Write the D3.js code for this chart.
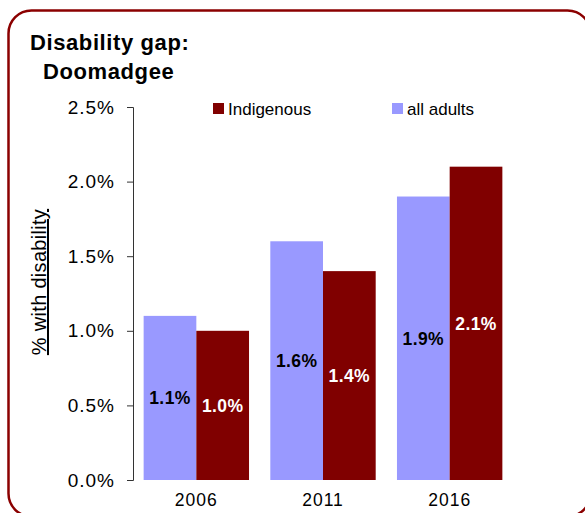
<!DOCTYPE html>
<html><head><meta charset="utf-8">
<script src="https://cdn.jsdelivr.net/npm/d3@7"></script>
<style>html,body{margin:0;padding:0;background:#fff;}svg{display:block;}</style>
</head><body>
<svg id="chart" width="585" height="513"></svg>
<script>
const years = ["2006", "2011", "2016"];
const allAdults = [1.1, 1.6, 1.9];
const indigenous = [1.0, 1.4, 2.1];
const yTicks = [0, 0.5, 1.0, 1.5, 2.0, 2.5];
const seriesNames = ["all adults", "Indigenous"];
const seriesColors = ["#9999ff", "#800000"];
const labelColors = ["#000000", "#ffffff"];

const svg = d3.select("#chart");
const font = "'Liberation Sans', Arial, Helvetica, sans-serif";

svg.append("rect").attr("x", 8.5).attr("y", 10.5).attr("width", 582).attr("height", 506)
  .attr("rx", 23).attr("fill", "none").attr("stroke", "#8b0000").attr("stroke-width", 2.5);

const x0 = d3.scaleBand().domain(years).range([133, 513]).paddingInner(0.168).paddingOuter(0.084);
const x1 = d3.scaleBand().domain(seriesNames).range([0, x0.bandwidth()]);
const y = d3.scaleLinear().domain([0, 2.5]).range([480, 107]);

// bars
const data = years.map((yr, i) => ({yr, vals: [allAdults[i], indigenous[i]]}));
const g = svg.append("g");
data.forEach(d => {
  d.vals.forEach((v, k) => {
    g.append("rect")
      .attr("x", x0(d.yr) + x1(seriesNames[k]))
      .attr("y", y(v))
      .attr("width", x1.bandwidth())
      .attr("height", y(0) - y(v))
      .attr("fill", seriesColors[k]);
    g.append("text")
      .attr("x", x0(d.yr) + x1(seriesNames[k]) + x1.bandwidth() / 2)
      .attr("y", (y(v) + y(0)) / 2)
      .attr("dy", "0.36em")
      .attr("text-anchor", "middle")
      .attr("font-family", font).attr("font-weight", "bold").attr("font-size", 17.5)
      .attr("letter-spacing", "0.4px")
      .attr("fill", labelColors[k])
      .text(v.toFixed(1) + "%");
  });
});

// y axis
const yAxis = d3.axisLeft(y).tickValues(yTicks).tickFormat(d => d.toFixed(1) + "%").tickSize(6).tickPadding(12);
const ya = svg.append("g").attr("transform", "translate(133,0)").call(yAxis);
ya.select(".domain").attr("stroke", "#333").attr("d", "M-6,480.5H0.5V107.5H-6");
ya.selectAll(".tick line").attr("stroke", "#333");
ya.selectAll(".tick text").attr("font-family", font).attr("font-size", 19).attr("letter-spacing", "1px")
  .attr("fill", "#000");

// x axis labels
const xAxis = d3.axisBottom(x0).tickSize(0).tickPadding(12);
const xa = svg.append("g").attr("transform", "translate(0,482)").call(xAxis);
xa.select(".domain").remove();
xa.selectAll(".tick text").attr("font-family", font).attr("font-size", 17.5).attr("letter-spacing", "1px")
  .attr("fill", "#000");

// y label
svg.append("text").attr("transform", "translate(46,282) rotate(-90)")
  .attr("text-anchor", "middle").attr("font-family", font).attr("font-size", 20)
  .attr("letter-spacing", "0.3px")
  .attr("text-decoration", "underline").text("% with disability");

// title
svg.append("text").attr("x", 30).attr("y", 50).attr("font-family", font).attr("font-weight", "bold")
  .attr("font-size", 22).attr("letter-spacing", "0.6px").text("Disability gap:");
svg.append("text").attr("x", 43).attr("y", 79).attr("font-family", font).attr("font-weight", "bold")
  .attr("font-size", 22).attr("letter-spacing", "0.6px").text("Doomadgee");

// legend
const legendItems = [
  {name: seriesNames[1], color: seriesColors[1], x: 213},
  {name: seriesNames[0], color: seriesColors[0], x: 392}
];
legendItems.forEach(it => {
  svg.append("rect").attr("x", it.x).attr("y", 103).attr("width", 11).attr("height", 11).attr("fill", it.color);
  svg.append("text").attr("x", it.x + 15).attr("y", 115).attr("font-family", font).attr("font-size", 17)
    .text(it.name);
});
</script>
</body></html>
